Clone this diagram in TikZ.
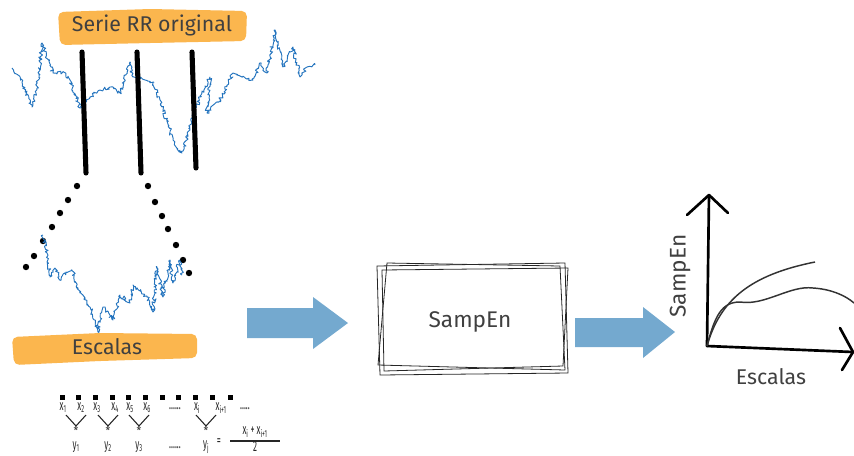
\documentclass[tikz,border=0pt]{standalone}
\usepackage{fontspec}
\setmainfont{Fira Sans}
\usetikzlibrary{decorations.pathmorphing}
\definecolor{hlorange}{RGB}{251,182,78}
\definecolor{flowblue}{RGB}{116,169,207}
\definecolor{sigblue}{RGB}{36,116,190}
\definecolor{inkgray}{RGB}{64,64,64}
\tikzset{
  sig/.style={sigblue, line width=0.7pt, line join=round, decorate,
    decoration={random steps, segment length=1.1pt, amplitude=1.4pt}},
  bar/.style={line width=3.8pt, line cap=round},
  dotmark/.style={fill=black},
  bigtext/.style={font=\fontsize{16}{18}\selectfont, text=inkgray, inner sep=0},
  idx/.style={font=\fontsize{11}{12}\selectfont, text=black!85, inner sep=0, xscale=0.55},
  starmark/.style={font=\fontsize{8}{9}\selectfont, text=black!85, inner sep=0},
  sketch/.style={line width=0.6pt, black!85},
  axisline/.style={line width=2pt, line cap=round, line join=round},
  curveline/.style={line width=1.1pt, black!80},
}
\begin{document}
\begin{tikzpicture}[x=0.75pt,y=0.75pt,yscale=-1]
\pgfmathsetseed{11}
\useasboundingbox (0,0) rectangle (854,455);

%Shape: highlight top
\fill[hlorange, rounded corners=4] (58,12) -- (150,9) -- (247,11) -- (246,41) -- (150,43) -- (60,45) -- cycle;
% Text Node
\node[bigtext] (serie) at (152,25) {Serie RR original};

%Curve Lines: original series
\draw[sig] (12,68) -- (22,82) -- (32,107) -- (37,88) -- (42,43) -- (53,73) -- (63,72)
  -- (72,85) -- (80,108) -- (90,97) -- (100,90) -- (110,87) -- (120,93) -- (130,62)
  -- (133,77) -- (145,80) -- (153,82) -- (160,100) -- (173,140) -- (182,153)
  -- (190,127) -- (200,97) -- (210,77) -- (207,113) -- (220,100) -- (233,73)
  -- (253,80) -- (260,63) -- (267,73) -- (275,30) -- (283,67) -- (293,47)
  -- (300,77) -- (307,67) -- (315,65);

%Straight Lines: cut bars
\draw[bar] (82,52) -- (86,173);
\draw[bar] (137,52) -- (141,173);
\draw[bar] (192,52) -- (196,168);

%Shape: dotted lines
\foreach \px/\py in {77/186,68/200,60/213,52/227,43/241,34/256,26/267,
  148/186,155/202,162/216,168/229,176/245,183/260,189/273}
  \fill[dotmark] (\px,\py) circle (3.2);

%Curve Lines: zoomed series
\draw[sig] (43,235) -- (47,253) -- (50,277) -- (55,268) -- (60,280) -- (66,272)
  -- (72,270) -- (80,293) -- (90,307) -- (98,332) -- (103,307) -- (113,320)
  -- (120,295) -- (130,303) -- (133,285) -- (147,297) -- (153,312) -- (157,267)
  -- (163,297) -- (170,260) -- (173,283) -- (180,260) -- (182,275);

%Shape: highlight bottom
\fill[hlorange, rounded corners=4] (12,337) -- (100,333) -- (197,334) -- (197,358) -- (100,361) -- (14,365) -- cycle;
% Text Node
\node[bigtext] (escalasleft) at (107,347) {Escalas};

%Shape: averaging scheme
\foreach \px in {62,78,95,112,128,145,162,178,195,212,230}
  \fill (\px-2.5,394.5) rectangle ++(5,5);
\foreach \px/\lab in {63/1,81/2,97/3,115/4,130/5,147/6}
  \node[idx] at (\px,408) {x\textsubscript{\lab}};
\node[idx] (xi) at (197,408) {x\textsubscript{i}};
\node[idx] (xii) at (221,408) {x\textsubscript{i+1}};
\node[idx] at (175,409) {......};
\node[idx] at (245,409) {.....};
\foreach \px in {76,108,139,206} {
  \draw[black!85, line width=0.8pt] (\px-10,415) -- (\px,426) -- (\px+10,415);
  \node[starmark] at (\px,431) {*};
}
\foreach \px/\lab in {76/1,108/2,139/3,206/j}
  \node[idx] at (\px,447) {y\textsubscript{\lab}};
\node[idx] at (175,448) {......};
\node[idx] (eq) at (219,442) {=};
\node[idx] (num) at (255,432) {x\textsubscript{i} + x\textsubscript{i+1}};
\draw[black!85, line width=0.8pt] (230,441) -- (280,441);
\node[idx] (den) at (255,447) {2};

%Shape: block arrow left
\fill[flowblue] (247,308) -- (313,308) -- (313,297) -- (348,323) -- (313,349) -- (313,338) -- (247,338) -- cycle;

%Shape: sketchy box
\draw[sketch] (377,266) -- (565,263) -- (568,373) -- (380,375) -- cycle;
\draw[sketch] (382,270) -- (568,268) -- (563,366) -- (384,371) -- cycle;
\draw[sketch] (387,263) -- (560,266) -- (565,370) -- (378,365) -- cycle;
% Text Node
\node[bigtext, font=\fontsize{17}{19}\selectfont] (sampen) at (470,322) {SampEn};

%Shape: block arrow right
\fill[flowblue] (575,318) -- (643,318) -- (643,307) -- (675,332) -- (643,358) -- (643,347) -- (575,347) -- cycle;

%Straight Lines: plot axes
\coordinate (origin) at (707,346);
\coordinate (ytip) at (709,195);
\coordinate (xtip) at (853,352);
\draw[axisline] (origin) -- (ytip);
\draw[axisline] (687,215) -- (ytip) -- (728,213);
\draw[axisline] (origin) -- (xtip);
\draw[axisline] (840,328) -- (xtip) -- (842,370);

%Curve Lines: plot curves
\draw[curveline] (origin) .. controls (720,300) and (750,275) .. (815,262);
\draw[curveline] (origin) .. controls (715,315) and (722,302) .. (740,302)
  .. controls (765,306) and (790,285) .. (813,288) .. controls (830,289) and (845,295) .. (854,303);

% Text Node
\node[bigtext, font=\fontsize{17}{19}\selectfont, rotate=90] (ylab) at (680,276) {SampEn};
% Text Node
\node[bigtext] (xlab) at (771,377) {Escalas};
\end{tikzpicture}
\end{document}
